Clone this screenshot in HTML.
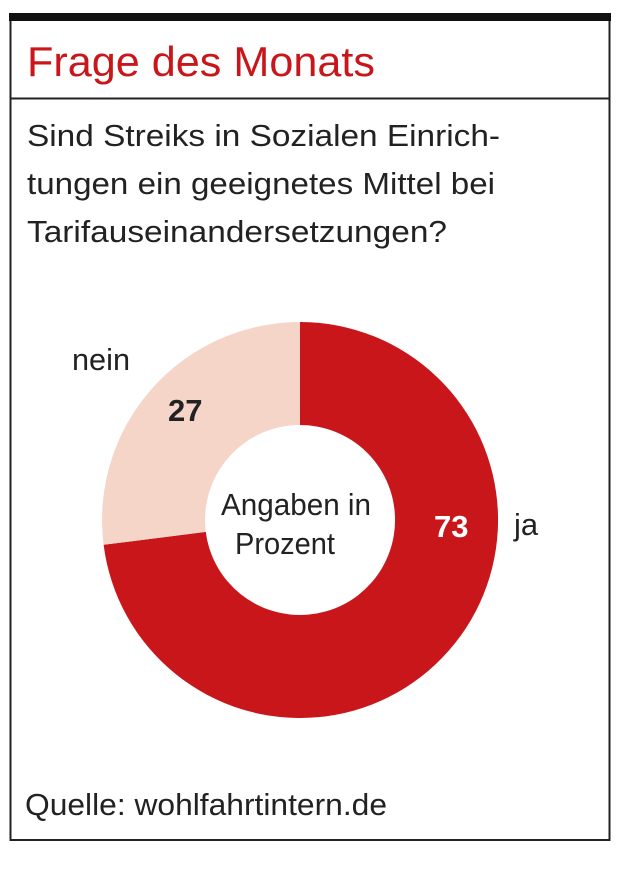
<!DOCTYPE html>
<html><head><meta charset="utf-8"><style>
html,body{margin:0;padding:0;background:#fff;}
svg{display:block;}
</style></head><body>
<svg width="637" height="873" viewBox="0 0 637 873" xmlns="http://www.w3.org/2000/svg">
<rect x="0" y="0" width="637" height="873" fill="#fff"/>
<rect x="10.5" y="18" width="599" height="822" fill="none" stroke="#222" stroke-width="2"/>
<rect x="9" y="13" width="602" height="8" fill="#111"/>
<line x1="10" y1="98.5" x2="610" y2="98.5" stroke="#222" stroke-width="2"/>
<g font-family="'Liberation Sans Narrow','Liberation Sans',sans-serif">
<text x="27" y="76" font-size="42" fill="#c8161b" textLength="348" lengthAdjust="spacingAndGlyphs">Frage des Monats</text>
<text x="27" y="146" font-size="31" fill="#222" textLength="473" lengthAdjust="spacingAndGlyphs">Sind Streiks in Sozialen Einrich-</text>
<text x="27" y="194" font-size="31" fill="#222" textLength="468" lengthAdjust="spacingAndGlyphs">tungen ein geeignetes Mittel bei</text>
<text x="27" y="242" font-size="31" fill="#222" textLength="420" lengthAdjust="spacingAndGlyphs">Tarifauseinandersetzungen?</text>
</g>
<path d="M300 322 A198 198 0 1 1 103.6 544.8 L205.8 531.9 A95 95 0 1 0 300 425 Z" fill="#c8161b"/>
<path d="M300 322 A198 198 0 0 0 103.6 544.8 L205.8 531.9 A95 95 0 0 1 300 425 Z" fill="#f5d5c8"/>
<g font-family="'Liberation Sans Narrow','Liberation Sans',sans-serif" fill="#222">
<text x="72" y="370" font-size="31" textLength="58" lengthAdjust="spacingAndGlyphs">nein</text>
<text x="168" y="421" font-size="31" font-weight="bold" font-family="'Liberation Sans',sans-serif">27</text>
<text x="434" y="537" font-size="31" font-weight="bold" fill="#fff" font-family="'Liberation Sans',sans-serif">73</text>
<text x="514" y="535" font-size="31">ja</text>
<text x="221" y="515" font-size="31" textLength="150" lengthAdjust="spacingAndGlyphs">Angaben in</text>
<text x="235" y="554" font-size="31" textLength="100" lengthAdjust="spacingAndGlyphs">Prozent</text>
<text x="25" y="815" font-size="31" textLength="362" lengthAdjust="spacingAndGlyphs">Quelle: wohlfahrtintern.de</text>
</g>
</svg>
</body></html>
